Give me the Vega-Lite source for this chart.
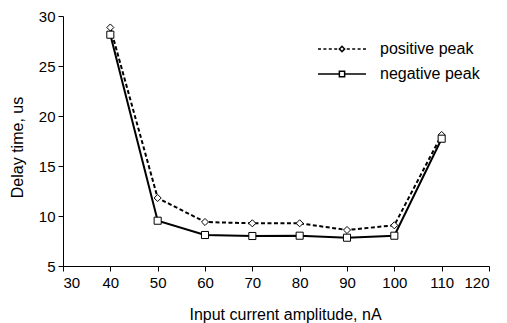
{
  "$schema": "https://vega.github.io/schema/vega-lite/v6.json",
  "width": 426,
  "height": 250,
  "autosize": "none",
  "padding": {"left": 63, "top": 16, "right": 18, "bottom": 57},
  "background": "white",
  "config": {
    "font": "Liberation Sans",
    "view": {"stroke": null},
    "axis": {
      "grid": false,
      "domainColor": "black",
      "tickColor": "black",
      "labelColor": "black",
      "titleColor": "black",
      "labelFontSize": 15,
      "titleFontSize": 16,
      "titleFontWeight": "normal",
      "tickSize": 5,
      "labelFont": "Liberation Sans",
      "titleFont": "Liberation Sans"
    }
  },
  "data": {
    "values": [
      {"current": 40, "delay": 28.85, "series": "positive peak"},
      {"current": 50, "delay": 11.8, "series": "positive peak"},
      {"current": 60, "delay": 9.4, "series": "positive peak"},
      {"current": 70, "delay": 9.27, "series": "positive peak"},
      {"current": 80, "delay": 9.27, "series": "positive peak"},
      {"current": 90, "delay": 8.6, "series": "positive peak"},
      {"current": 100, "delay": 9.07, "series": "positive peak"},
      {"current": 110, "delay": 18.1, "series": "positive peak"},
      {"current": 40, "delay": 28.13, "series": "negative peak"},
      {"current": 50, "delay": 9.53, "series": "negative peak"},
      {"current": 60, "delay": 8.1, "series": "negative peak"},
      {"current": 70, "delay": 8.0, "series": "negative peak"},
      {"current": 80, "delay": 8.03, "series": "negative peak"},
      {"current": 90, "delay": 7.83, "series": "negative peak"},
      {"current": 100, "delay": 8.03, "series": "negative peak"},
      {"current": 110, "delay": 17.73, "series": "negative peak"}
    ]
  },
  "encoding": {
    "x": {
      "field": "current",
      "type": "quantitative",
      "scale": {"domain": [30, 120], "nice": false, "zero": false},
      "axis": {"values": [30, 40, 50, 60, 70, 80, 90, 100, 110, 120], "title": "Input current amplitude, nA", "labelPadding": 4, "titlePadding": 16, "titleX": 222, "titleAnchor": null, "titleAlign": "center"}
    },
    "y": {
      "field": "delay",
      "type": "quantitative",
      "scale": {"domain": [5, 30], "nice": false, "zero": false},
      "axis": {"values": [5, 10, 15, 20, 25, 30], "title": "Delay time, us", "labelPadding": 3, "titlePadding": 13, "titleY": 131, "titleAlign": "center"}
    }
  },
  "layer": [
    {
      "transform": [{"filter": "datum.series == 'positive peak'"}],
      "mark": {"type": "line", "color": "black", "strokeWidth": 2, "strokeDash": [4, 2.5]},
      "encoding": {
        "opacity": {
          "field": "series",
          "type": "ordinal",
          "scale": {"domain": ["positive peak", "negative peak"], "range": [1, 1]},
          "legend": {
            "title": null,
            "orient": "none",
            "legendX": 266,
            "legendY": 20,
            "symbolSize": 576,
            "symbolStrokeWidth": 1.5,
            "symbolFillColor": "white",
            "symbolStrokeColor": "black",
            "symbolDash": [1, 0],
            "labelFontSize": 16,
            "labelColor": "black",
            "labelFont": "Liberation Sans",
            "labelOffset": 25,
            "rowPadding": 4,
            "padding": 0,
            "encode": {
              "symbols": {
                "update": {
                  "shape": {"signal": "datum.value == 'positive peak' ? 'M-2,0H-1.75M-1.55,0H-1.3M-1.1,0H-0.85M-0.65,0H-0.4M0.4,0H0.65M0.85,0H1.1M1.3,0H1.55M1.75,0H2M0,-0.22L0.22,0L0,0.22L-0.22,0Z' : 'M-2,0H-0.22M0.22,0H2M-0.22,-0.22H0.22V0.22H-0.22Z'"},
                  "strokeDash": {"value": [1, 0]},
                  "strokeWidth": {"value": 1.5},
                  "fill": {"value": "white"},
                  "stroke": {"value": "black"}
                }
              }
            }
          }
        }
      }
    },
    {
      "transform": [{"filter": "datum.series == 'negative peak'"}],
      "mark": {"type": "line", "color": "black", "strokeWidth": 2}
    },
    {
      "transform": [{"filter": "datum.series == 'positive peak'"}],
      "mark": {"type": "point", "shape": "diamond", "filled": true, "fill": "white", "stroke": "black", "strokeWidth": 1, "size": 50, "opacity": 1}
    },
    {
      "transform": [{"filter": "datum.series == 'negative peak'"}],
      "mark": {"type": "point", "shape": "square", "filled": true, "fill": "white", "stroke": "black", "strokeWidth": 1, "size": 50, "opacity": 1}
    }
  ]
}
